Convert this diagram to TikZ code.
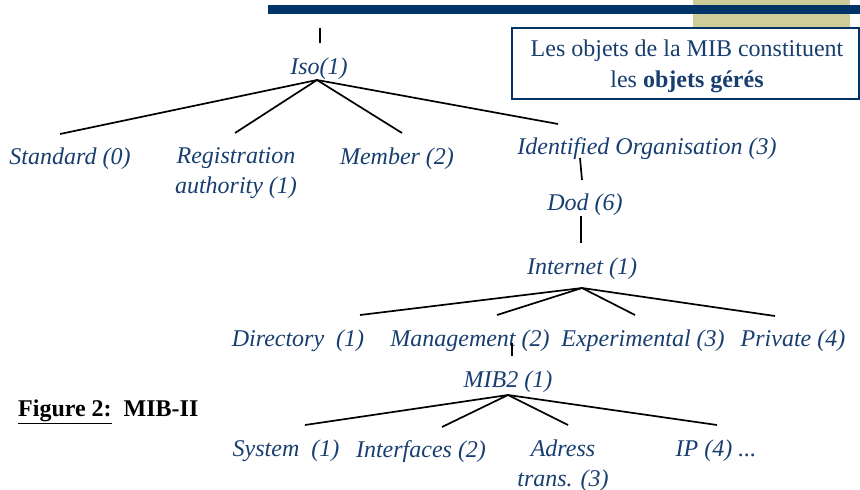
\documentclass[tikz,border=0pt]{standalone}
\usepackage{fontspec}
\setmainfont{Liberation Serif}
\definecolor{navy}{RGB}{0,51,102}
\definecolor{txtblue}{RGB}{24,62,112}
\definecolor{khaki}{RGB}{206,204,152}
\begin{document}
\begin{tikzpicture}[x=1pt,y=-1pt,
  lbl/.style={font=\fontsize{24}{30}\selectfont\itshape, text=txtblue, inner sep=0pt, align=center, yshift=-2.5pt},
  edge/.style={draw=black, line width=1.7pt}]
\useasboundingbox (0,0) rectangle (860,490);
% decorations at top
\fill[khaki] (693,0) rectangle (850,28);
\fill[navy] (268,5) rectangle (860,14);
\node[draw=navy, line width=1.5pt, fill=white, minimum width=347pt, minimum height=71pt, inner sep=0pt,
      anchor=north west] (box) at (511,27) {};
\node[align=center, text=txtblue, font=\fontsize{24}{31}\selectfont, inner sep=0pt] (boxtxt) at (687,66)
  {Les objets de la MIB constituent\\les \textbf{objets gérés}};
% text nodes
\node[lbl] (iso) at (319,66) {Iso(1)};
\node[lbl] (std) at (70,156) {Standard (0)};
\node[lbl] (reg) at (236,171) {Registration\\authority (1)};
\node[lbl] (mem) at (397,156) {Member (2)};
\node[lbl] (ido) at (647,146) {Identified Organisation (3)};
\node[lbl] (dod) at (585,202) {Dod (6)};
\node[lbl] (inet) at (582,266) {Internet (1)};
\node[lbl] (dir) at (298,338) {Directory\ \ (1)};
\node[lbl] (mgt) at (470,338) {Management (2)};
\node[lbl] (exp) at (643,338) {Experimental (3)};
\node[lbl] (prv) at (793,338) {Private (4)};
\node[lbl] (mib) at (508,379) {MIB2 (1)};
\node[lbl] (sys) at (286,448) {System\ \ (1)};
\node[lbl] (itf) at (421,449) {Interfaces (2)};
\node[lbl] (adr) at (563,463) {Adress\\trans. (3)};
\node[lbl] (ip) at (716,448) {IP (4) ...};
\node[font=\fontsize{24}{28}\selectfont\bfseries, inner sep=0pt, anchor=west] (fig) at (18,412)
  {\underline{Figure 2:}\ \ MIB-II};
% connector points
\coordinate (isoTop) at (320,28);
\coordinate (isoTick) at (320,43);
\coordinate (isoA) at (317,80);
\coordinate (stdE) at (60,134);
\coordinate (regE) at (235,133);
\coordinate (memE) at (402,133);
\coordinate (idoE) at (558,124);
\coordinate (idoB) at (580,158);
\coordinate (dodT) at (582,180);
\coordinate (dodB) at (581,216);
\coordinate (inetT) at (581,243);
\coordinate (inetA) at (582,288);
\coordinate (dirE) at (360,315);
\coordinate (mgtE) at (497,315);
\coordinate (expE) at (635,315);
\coordinate (prvE) at (775,316);
\coordinate (mgtB) at (512,343);
\coordinate (mibT) at (512,356);
\coordinate (mibA) at (508,395);
\coordinate (sysE) at (305,425);
\coordinate (itfE) at (442,427);
\coordinate (adrE) at (568,425);
\coordinate (ipE) at (717,425);
% connectors
\draw[edge] (isoTop) -- (isoTick);
\draw[edge] (isoA) -- (stdE);
\draw[edge] (isoA) -- (regE);
\draw[edge] (isoA) -- (memE);
\draw[edge] (isoA) -- (idoE);
\draw[edge] (idoB) -- (dodT);
\draw[edge] (dodB) -- (inetT);
\draw[edge] (inetA) -- (dirE);
\draw[edge] (inetA) -- (mgtE);
\draw[edge] (inetA) -- (expE);
\draw[edge] (inetA) -- (prvE);
\draw[edge] (mgtB) -- (mibT);
\draw[edge] (mibA) -- (sysE);
\draw[edge] (mibA) -- (itfE);
\draw[edge] (mibA) -- (adrE);
\draw[edge] (mibA) -- (ipE);
\end{tikzpicture}
\end{document}
